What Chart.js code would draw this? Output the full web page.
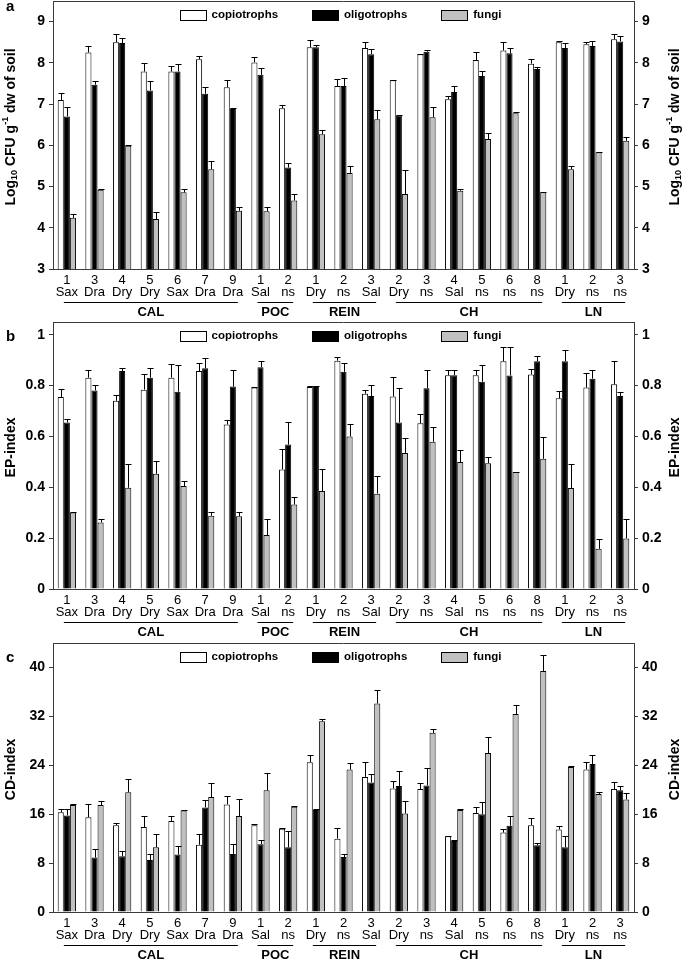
<!DOCTYPE html>
<html>
<head>
<meta charset="utf-8">
<script src="https://cdn.jsdelivr.net/npm/chart.js@4.4.1/dist/chart.umd.min.js"></script>
<style>
    html, body { margin: 0; padding: 0; background: #fff; }
    .panel { position: relative; width: 685px; height: 320px; }
</style>
</head>
<body>
<div class="panel"><canvas id="chart-a"></canvas></div>
<div class="panel"><canvas id="chart-b"></canvas></div>
<div class="panel"><canvas id="chart-c"></canvas></div>
<script>
// Sites (two-line tick labels) and the regions they belong to
const siteNumbers = ['1', '3', '4', '5', '6', '7', '9', '1', '2', '1', '2', '3', '2', '3', '4', '5', '6', '8', '1', '2', '3'];
const siteTypes = ['Sax', 'Dra', 'Dry', 'Dry', 'Sax', 'Dra', 'Dra', 'Sal', 'ns', 'Dry', 'ns', 'Sal', 'Dry', 'ns', 'Sal', 'ns', 'ns', 'ns', 'Dry', 'ns', 'ns'];
const regionNames = ['CAL', 'POC', 'REIN', 'CH', 'LN'];
const regionFirst = [0, 7, 9, 12, 18];
const regionLast = [6, 8, 11, 17, 20];
const seriesNames = ['copiotrophs', 'oligotrophs', 'fungi'];

// Panel a: Log10 CFU per g dw of soil
const copioLog = [7.10, 8.25, 8.50, 7.79, 7.79, 8.09, 7.41, 8.01, 6.90, 8.38, 7.44, 8.36, 7.58, 8.21, 7.12, 8.07, 8.30, 7.98, 8.50, 8.45, 8.57];
const copioLogErr = [0.16, 0.17, 0.20, 0.21, 0.14, 0.08, 0.18, 0.14, 0.07, 0.18, 0.17, 0.15, 0.01, 0.01, 0.08, 0.20, 0.20, 0.12, 0.02, 0.05, 0.13];
const oligoLog = [6.70, 7.47, 8.48, 7.33, 7.79, 7.25, 6.88, 7.71, 5.46, 8.38, 7.44, 8.21, 6.72, 8.27, 7.29, 7.68, 8.23, 7.85, 8.36, 8.41, 8.52];
const oligoLogErr = [0.23, 0.08, 0.12, 0.23, 0.19, 0.16, 0.03, 0.16, 0.11, 0.06, 0.20, 0.12, 0.02, 0.05, 0.16, 0.13, 0.14, 0.06, 0.13, 0.11, 0.12];
const fungiLog = [4.24, 4.92, 5.99, 4.21, 4.86, 5.42, 4.41, 4.40, 4.66, 6.27, 5.33, 6.63, 4.82, 6.68, 4.90, 6.15, 6.78, 4.86, 5.42, 5.83, 6.11];
const fungiLogErr = [0.09, 0.02, 0.01, 0.17, 0.08, 0.19, 0.09, 0.10, 0.16, 0.11, 0.18, 0.23, 0.57, 0.24, 0.04, 0.16, 0.02, 0.01, 0.08, 0.01, 0.08];

// Panel b: EP-index
const copioEP = [0.755, 0.831, 0.740, 0.784, 0.831, 0.857, 0.647, 0.792, 0.470, 0.794, 0.898, 0.768, 0.757, 0.652, 0.841, 0.841, 0.896, 0.844, 0.750, 0.792, 0.805];
const copioEPErr = [0.030, 0.032, 0.023, 0.062, 0.052, 0.032, 0.017, 0.002, 0.081, 0.004, 0.013, 0.015, 0.078, 0.038, 0.022, 0.022, 0.056, 0.023, 0.029, 0.056, 0.093];
const oligoEP = [0.655, 0.781, 0.857, 0.831, 0.776, 0.868, 0.796, 0.872, 0.568, 0.794, 0.854, 0.759, 0.655, 0.789, 0.841, 0.815, 0.840, 0.896, 0.896, 0.827, 0.759];
const oligoEPErr = [0.014, 0.021, 0.013, 0.039, 0.103, 0.040, 0.066, 0.026, 0.090, 0.004, 0.034, 0.042, 0.137, 0.074, 0.022, 0.064, 0.112, 0.019, 0.045, 0.035, 0.016];
const fungiEP = [0.301, 0.262, 0.398, 0.453, 0.405, 0.288, 0.286, 0.212, 0.332, 0.385, 0.600, 0.375, 0.535, 0.579, 0.499, 0.495, 0.460, 0.512, 0.397, 0.158, 0.199];
const fungiEPErr = [0.002, 0.014, 0.092, 0.050, 0.018, 0.013, 0.015, 0.064, 0.030, 0.088, 0.048, 0.069, 0.057, 0.059, 0.048, 0.026, 0.002, 0.084, 0.095, 0.037, 0.077];

// Panel c: CD-index
const copioCD = [16.3, 15.5, 14.2, 13.9, 14.9, 11.0, 17.6, 14.2, 13.6, 24.5, 12.0, 22.1, 20.2, 20.1, 12.4, 16.2, 13.0, 14.2, 13.5, 23.3, 20.1];
const copioCDErr = [0.6, 2.1, 0.4, 1.8, 0.8, 1.7, 1.4, 0.2, 0.1, 1.2, 1.7, 2.4, 1.2, 1.0, 0.1, 1.0, 0.6, 1.2, 0.5, 1.3, 1.1];
const oligoCD = [15.8, 8.9, 9.1, 8.5, 9.4, 17.1, 9.5, 11.1, 10.6, 16.7, 9.0, 21.2, 20.6, 20.7, 11.6, 16.0, 14.1, 10.9, 10.6, 24.2, 19.9];
const oligoCDErr = [1.0, 1.4, 0.9, 1.0, 1.4, 1.3, 1.7, 0.7, 2.7, 0.2, 0.5, 1.3, 2.5, 2.8, 0.2, 2.0, 1.6, 0.4, 1.8, 1.5, 0.7];
const fungiCD = [17.5, 17.5, 19.6, 10.6, 16.6, 18.8, 15.7, 19.9, 17.2, 31.2, 23.3, 34.1, 16.1, 29.3, 16.7, 26.0, 32.4, 39.4, 23.7, 19.3, 18.4];
const fungiCDErr = [0.1, 0.6, 2.2, 2.1, 0.1, 2.3, 2.8, 2.9, 0.1, 0.4, 1.1, 2.2, 2.0, 0.7, 0.2, 2.7, 1.5, 2.6, 0.1, 0.3, 1.1];

// Axis ticks
const logTicks = [3, 4, 5, 6, 7, 8, 9];
const epTicks = [0, 0.2, 0.4, 0.6, 0.8, 1];
const cdTicks = [0, 8, 16, 24, 32, 40];

const FONT = '"Liberation Sans", Arial, Helvetica, sans-serif';
const FRAME = '#3a3a3a';
const seriesColors = ['#ffffff', '#000000', '#c0c0c0'];

/**
 * Draw the upward error bars from each dataset's `errors` array
 */
const errorBarPlugin = {
    id: 'errorBars',
    afterDatasetsDraw(chart) {
        const ctx = chart.ctx;
        const yScale = chart.scales.y;
        ctx.save();
        ctx.strokeStyle = '#000';
        ctx.lineWidth = 1;
        chart.data.datasets.forEach((ds, di) => {
            const meta = chart.getDatasetMeta(di);
            meta.data.forEach((bar, i) => {
                const top = yScale.getPixelForValue(ds.data[i] + ds.errors[i]);
                const x = Math.round(bar.x) + 0.5;
                const half = bar.width / 2;
                const yc = Math.round(top) + 0.5;
                ctx.beginPath();
                ctx.moveTo(x, bar.y);
                ctx.lineTo(x, yc);
                ctx.moveTo(x - half, yc);
                ctx.lineTo(x + half, yc);
                ctx.stroke();
            });
        });
        ctx.restore();
    }
};

/**
 * Frame top line, legend inside the plot, region labels, axis titles and panel letter
 */
const decorPlugin = {
    id: 'decor',
    afterDraw(chart, args, opts) {
        const ctx = chart.ctx;
        const area = chart.chartArea;
        const xScale = chart.scales.x;
        ctx.save();

        // top line of the frame
        ctx.strokeStyle = FRAME;
        ctx.lineWidth = 1;
        ctx.beginPath();
        ctx.moveTo(area.left, Math.round(area.top) + 0.5);
        ctx.lineTo(area.right, Math.round(area.top) + 0.5);
        ctx.stroke();

        // legend
        ctx.font = 'bold 11.5px ' + FONT;
        ctx.textBaseline = 'middle';
        ctx.textAlign = 'left';
        const boxW = 26, boxH = 10, gap = 34, textPad = 6;
        const widths = seriesNames.map(n => boxW + textPad + ctx.measureText(n).width);
        const total = widths.reduce((a, b) => a + b, 0) + gap * (widths.length - 1);
        let lx = (area.left + area.right) / 2 - 3 - total / 2;
        const ly = area.top + 14;
        chart.data.datasets.forEach((ds, i) => {
            const bx = Math.round(lx) + 0.5;
            const by = Math.round(ly - boxH / 2) + 0.5;
            ctx.fillStyle = ds.backgroundColor;
            ctx.fillRect(bx, by, boxW, boxH);
            ctx.strokeStyle = '#000';
            ctx.strokeRect(bx, by, boxW, boxH);
            ctx.fillStyle = '#000';
            ctx.fillText(ds.label, lx + boxW + textPad, ly);
            lx += widths[i] + gap;
        });

        // region underlines and names
        ctx.font = 'bold 13px ' + FONT;
        ctx.textAlign = 'center';
        ctx.strokeStyle = '#000';
        regionNames.forEach((name, r) => {
            const x1 = xScale.getPixelForValue(regionFirst[r]) - 3;
            const x2 = xScale.getPixelForValue(regionLast[r]) + 5;
            const uy = Math.round(area.bottom + 33) + 0.5;
            ctx.beginPath();
            ctx.moveTo(x1, uy);
            ctx.lineTo(x2, uy);
            ctx.stroke();
            ctx.fillText(name, (x1 + x2) / 2, area.bottom + 43);
        });

        // axis titles on both sides
        const midY = (area.top + area.bottom) / 2 - 8;
        [11, 675].forEach(tx => {
            ctx.save();
            ctx.translate(tx, midY);
            ctx.rotate(-Math.PI / 2);
            drawRichText(ctx, opts.title, 0, 0);
            ctx.restore();
        });

        // panel letter
        ctx.font = 'bold 15px ' + FONT;
        ctx.textAlign = 'left';
        ctx.textBaseline = 'alphabetic';
        ctx.fillStyle = '#000';
        ctx.fillText(opts.letter, 6, opts.letterY);
        ctx.restore();
    }
};

/**
 * Draw centred text made of normal / sub / sup pieces
 */
function drawRichText(ctx, pieces, cx, cy) {
    const fontFor = kind => (kind === 'n' ? 'bold 14px ' : 'bold 9px ') + FONT;
    let width = 0;
    pieces.forEach(p => {
        ctx.font = fontFor(p.kind);
        width += ctx.measureText(p.text).width;
    });
    let x = cx - width / 2;
    ctx.textAlign = 'left';
    ctx.textBaseline = 'middle';
    ctx.fillStyle = '#000';
    pieces.forEach(p => {
        ctx.font = fontFor(p.kind);
        const dy = p.kind === 'sub' ? 4 : (p.kind === 'sup' ? -5 : 0);
        ctx.fillText(p.text, x, cy + dy);
        x += ctx.measureText(p.text).width;
    });
}

// Let the plot area run right up to the layout padding
function dropScalePadding(scale) {
    scale.paddingTop = 0;
    scale.paddingBottom = 0;
    scale.paddingLeft = 0;
    scale.paddingRight = 0;
}

/**
 * Build one panel of grouped bars
 */
function buildPanel(id, panel) {
    const ctx = document.getElementById(id);
    const yAxis = (position, width) => ({
        position: position,
        min: panel.min,
        max: panel.max,
        afterBuildTicks: scale => { scale.ticks = panel.ticks.map(v => ({ value: v })); },
        afterFit: scale => {
            scale.width = width;
            dropScalePadding(scale);
        },
        grid: { drawOnChartArea: false, drawTicks: true, tickLength: 4, color: FRAME },
        border: { display: true, color: FRAME, width: 1 },
        ticks: {
            color: '#000',
            padding: 4,
            font: { family: FONT, size: 14, weight: 'bold' },
            callback: v => String(v)
        }
    });

    return new Chart(ctx, {
        type: 'bar',
        data: {
            labels: siteNumbers.map((n, i) => [n, siteTypes[i]]),
            datasets: panel.values.map((vals, k) => ({
                label: seriesNames[k],
                data: vals,
                errors: panel.errors[k],
                backgroundColor: seriesColors[k],
                borderColor: '#000',
                borderWidth: 1,
                categoryPercentage: 0.66,
                barPercentage: 1.0
            }))
        },
        options: {
            responsive: true,
            maintainAspectRatio: false,
            animation: false,
            devicePixelRatio: 1,
            layout: { padding: { top: panel.top, left: 0, right: 0, bottom: 0 } },
            plugins: {
                legend: { display: false },
                tooltip: { enabled: false },
                decor: { title: panel.title, letter: panel.letter, letterY: panel.letterY }
            },
            scales: {
                x: {
                    grid: { display: false, drawTicks: false },
                    border: { display: true, color: FRAME, width: 1 },
                    afterFit: scale => {
                        scale.height = panel.xHeight;
                        dropScalePadding(scale);
                    },
                    ticks: {
                        color: '#000',
                        padding: 5,
                        maxRotation: 0,
                        autoSkip: false,
                        font: { family: FONT, size: 13, lineHeight: 0.95 }
                    }
                },
                y: yAxis('left', 53),
                y2: yAxis('right', 51)
            }
        },
        plugins: [errorBarPlugin, decorPlugin]
    });
}

document.addEventListener('DOMContentLoaded', () => {
    buildPanel('chart-a', {
        values: [copioLog, oligoLog, fungiLog],
        errors: [copioLogErr, oligoLogErr, fungiLogErr],
        min: 3, max: 9.5, ticks: logTicks,
        top: 1, xHeight: 51, letter: 'a', letterY: 11,
        title: [
            { text: 'Log', kind: 'n' }, { text: '10', kind: 'sub' },
            { text: ' CFU g', kind: 'n' }, { text: '-1', kind: 'sup' },
            { text: ' dw of soil', kind: 'n' }
        ]
    });
    buildPanel('chart-b', {
        values: [copioEP, oligoEP, fungiEP],
        errors: [copioEPErr, oligoEPErr, fungiEPErr],
        min: 0, max: 1.05, ticks: epTicks,
        top: 2, xHeight: 51, letter: 'b', letterY: 21,
        title: [{ text: 'EP-index', kind: 'n' }]
    });
    buildPanel('chart-c', {
        values: [copioCD, oligoCD, fungiCD],
        errors: [copioCDErr, oligoCDErr, fungiCDErr],
        min: 0, max: 44, ticks: cdTicks,
        top: 3, xHeight: 48, letter: 'c', letterY: 22,
        title: [{ text: 'CD-index', kind: 'n' }]
    });
});
</script>
</body>
</html>
